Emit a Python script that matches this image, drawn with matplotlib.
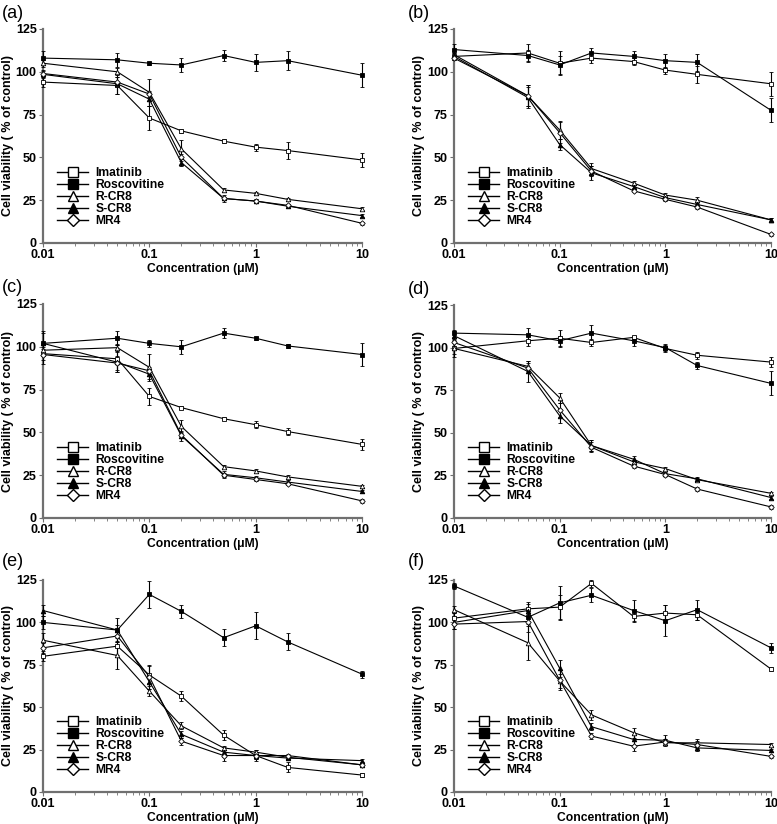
import matplotlib
matplotlib.use("Agg")
import matplotlib.pyplot as plt
from matplotlib.ticker import LogLocator, NullFormatter, FixedLocator, FixedFormatter

plt.rcParams['font.family'] = ['Liberation Sans', 'DejaVu Sans']
plt.rcParams['font.weight'] = 'bold'

# Concentrations (uM)
CONC = [0.01, 0.05, 0.1, 0.2, 0.5, 1, 2, 10]
DRUGS = ['Imatinib', 'Roscovitine', 'R-CR8', 'S-CR8', 'MR4']
PANELS = ['(a)', '(b)', '(c)', '(d)', '(e)', '(f)']

# means, rows in DRUGS order
A_MEAN = [[94, 92, 73, 65.5, 59.5, 56, 54, 48.5],
          [108, 107, 105, 104, 109.5, 105.5, 106.5, 98],
          [105, 100, 88, 55, 31, 29, 25.5, 20],
          [98.5, 93, 84, 47, 26, 24.5, 21.5, 16],
          [99, 94, 87, 50, 26, 24.5, 22, 11.5]]
A_ERR = [[3, 5, 7, 1, 1, 2, 5, 4],
         [4, 4, 1, 4, 3, 5, 5.5, 7],
         [2, 2, 8, 5, 1, 1, 1, 1],
         [2, 6, 4, 2, 2, 1, 1, 1],
         [2, 3, 2, 2, 1, 1, 1, 1]]

B_MEAN = [[109, 111, 105, 108, 106, 101, 98.5, 93],
          [113, 109.5, 104, 111, 109, 106.5, 105.5, 77.5],
          [110, 86, 66, 43.5, 35, 28, 25, 13.5],
          [109, 85, 57.5, 41, 33, 26.5, 22.5, 13.5],
          [108, 86, 64.5, 42, 30.5, 25.5, 21, 5]]
B_ERR = [[2, 5, 7, 3, 2, 2, 5, 7],
         [3, 3, 5, 3, 3, 4, 5, 7],
         [2, 6, 5, 3, 1, 1, 2, 1],
         [2, 6, 3, 4, 1, 1, 1, 1],
         [1, 6, 6, 3, 1, 1, 1, 1]]

C_MEAN = [[96, 93, 71, 64.5, 58, 54.5, 50.5, 43],
          [102, 105, 102, 100, 108, 105, 100.5, 95.5],
          [98, 99.5, 88, 53.5, 30, 27.5, 24, 18.5],
          [102, 91, 84, 48, 25.5, 23.5, 21, 15.5],
          [95.5, 90.5, 86, 48.5, 25, 22.5, 20, 10]]
C_ERR = [[6, 8, 5, 1, 1, 2, 2, 3],
         [7, 4, 2, 4, 3, 1, 1, 7],
         [2, 2, 8, 4, 1, 1, 1, 1],
         [6, 6, 3, 3, 2, 1, 1, 1],
         [3, 4, 2, 2, 1, 1, 1, 1]]

D_MEAN = [[99.5, 104, 105.5, 103, 106, 99.5, 95.5, 91.5],
          [108.5, 107.5, 104, 108.5, 104, 100, 89.5, 79],
          [99.5, 89, 70.5, 42.5, 33, 29, 22.5, 14.5],
          [107, 86, 60, 42.5, 34.5, 26, 23, 12],
          [103, 88, 63.5, 41.5, 30.5, 25.5, 17, 6.5]]
D_ERR = [[3, 3, 5, 2, 1, 2, 2, 3],
         [2, 4, 3, 5, 3, 2, 2, 7],
         [5, 3, 3, 3, 1, 1, 1, 1],
         [3, 6, 4, 3, 2, 1, 1, 1],
         [2, 3, 4, 3, 1, 1, 1, 1]]

E_MEAN = [[80, 86, 69, 56.5, 33.5, 21.5, 14.5, 10],
          [100, 95.5, 116.5, 106.5, 91, 98, 88.5, 69.5],
          [89.5, 80.5, 59.5, 39, 26, 23.5, 20.5, 16],
          [107, 95.5, 65, 34, 23.5, 21.5, 20, 18.5],
          [85, 92, 68, 30, 21.5, 21.5, 21.5, 16]]
E_ERR = [[3, 5, 5, 3, 3, 2, 3, 1],
         [4, 7, 8, 4, 5, 8, 5, 2],
         [4, 8, 3, 2, 1, 1, 1, 1],
         [3, 3, 4, 2, 3, 3, 1, 1],
         [3, 3, 7, 2, 3, 2, 1, 1]]

F_MEAN = [[102.5, 108, 109, 123, 103.5, 105.5, 104.5, 72.5],
          [121.5, 103, 111.5, 116, 107, 101, 107.5, 85],
          [107.5, 88, 65.5, 45.5, 35, 29, 29, 28],
          [100, 107, 73, 38.5, 31, 30.5, 26, 24.5],
          [99, 100.5, 66, 33, 27, 29.5, 28, 21]]
F_ERR = [[3, 3, 7, 2, 3, 5, 3, 1],
         [2, 4, 10, 4, 6, 9, 6, 3],
         [2, 10, 4, 3, 3, 2, 2, 1],
         [4, 5, 5, 2, 3, 3, 2, 1],
         [3, 6, 6, 2, 3, 2, 2, 1]]

MEANS = [A_MEAN, B_MEAN, C_MEAN, D_MEAN, E_MEAN, F_MEAN]
ERRS = [A_ERR, B_ERR, C_ERR, D_ERR, E_ERR, F_ERR]

MARKERS = ['s', 's', '^', '^', 'D']
FILLS = ['white', 'black', 'white', 'black', 'white']

W, H = 777, 824
fig = plt.figure(figsize=(W / 100, H / 100), dpi=100)

# axes boxes in pixels: left, top, right, bottom
BOXES = [(43, 29, 362, 243), (454, 29, 771, 243),
         (43, 304, 362, 518), (454, 305, 771, 518),
         (43, 580, 362, 792), (454, 580, 771, 792)]
LABEL_POS = [(2, 14), (408, 14), (2, 288), (408, 289), (2, 561), (408, 562)]

for i in range(6):
    l, t, r, b = BOXES[i]
    ax = fig.add_axes([l / W, 1 - b / H, (r - l) / W, (b - t) / H])
    for k in range(5):
        ms = 3.3 if MARKERS[k] != 'D' else 2.8
        ax.errorbar(CONC, MEANS[i][k], yerr=ERRS[i][k], color='black', lw=0.8,
                    marker=MARKERS[k], ms=ms, mfc=FILLS[k], mec='black', mew=0.6,
                    elinewidth=0.8, capsize=1.5, capthick=0.8, clip_on=False,
                    zorder=3)
    ax.set_xscale('log')
    ax.set_xlim(0.01, 10)
    ax.set_ylim(0, 125)
    ax.yaxis.set_major_locator(FixedLocator([0, 25, 50, 75, 100, 125]))
    ax.xaxis.set_major_locator(FixedLocator([0.01, 0.1, 1, 10]))
    ax.xaxis.set_major_formatter(FixedFormatter(['0.01', '0.1', '1', '10']))
    ax.xaxis.set_minor_locator(LogLocator(base=10, subs=range(2, 10)))
    ax.xaxis.set_minor_formatter(NullFormatter())
    for s in ['top', 'right']:
        ax.spines[s].set_visible(False)
    for s in ['left', 'bottom']:
        ax.spines[s].set_color('#707070')
        ax.spines[s].set_linewidth(1.6)
    ax.tick_params(axis='both', which='major', direction='out', length=3,
                   width=0.8, color='#707070', labelsize=9, pad=1.5)
    ax.tick_params(axis='x', which='minor', direction='out', length=2,
                   width=0.6, color='#707070')
    for lab in ax.get_xticklabels() + ax.get_yticklabels():
        lab.set_fontweight('bold')
    ax.set_xlabel('Concentration (\u03bcM)', fontsize=8.7, fontweight='bold', labelpad=1)
    ax.set_ylabel('Cell viability ( % of control)', fontsize=9, fontweight='bold',
                  labelpad=1)

    # legend with larger markers
    handles = []
    for k in range(5):
        h, = ax.plot([], [], color='black', lw=1.0, marker=MARKERS[k],
                     ms=7 if MARKERS[k] != 'D' else 6, mfc=FILLS[k], mec='black', mew=1.0)
        handles.append(h)
    ax.legend(handles, DRUGS, loc='lower left', bbox_to_anchor=(0.025, 0.045),
              frameon=False, handlelength=2.6, handletextpad=0.6,
              labelspacing=0.0, borderpad=0, prop={'weight': 'bold', 'size': 8.7})

    fig.text(LABEL_POS[i][0] / W, 1 - LABEL_POS[i][1] / H, PANELS[i],
             fontsize=13, fontweight='normal', ha='left', va='center')

fig.savefig('out.png', dpi=100)
